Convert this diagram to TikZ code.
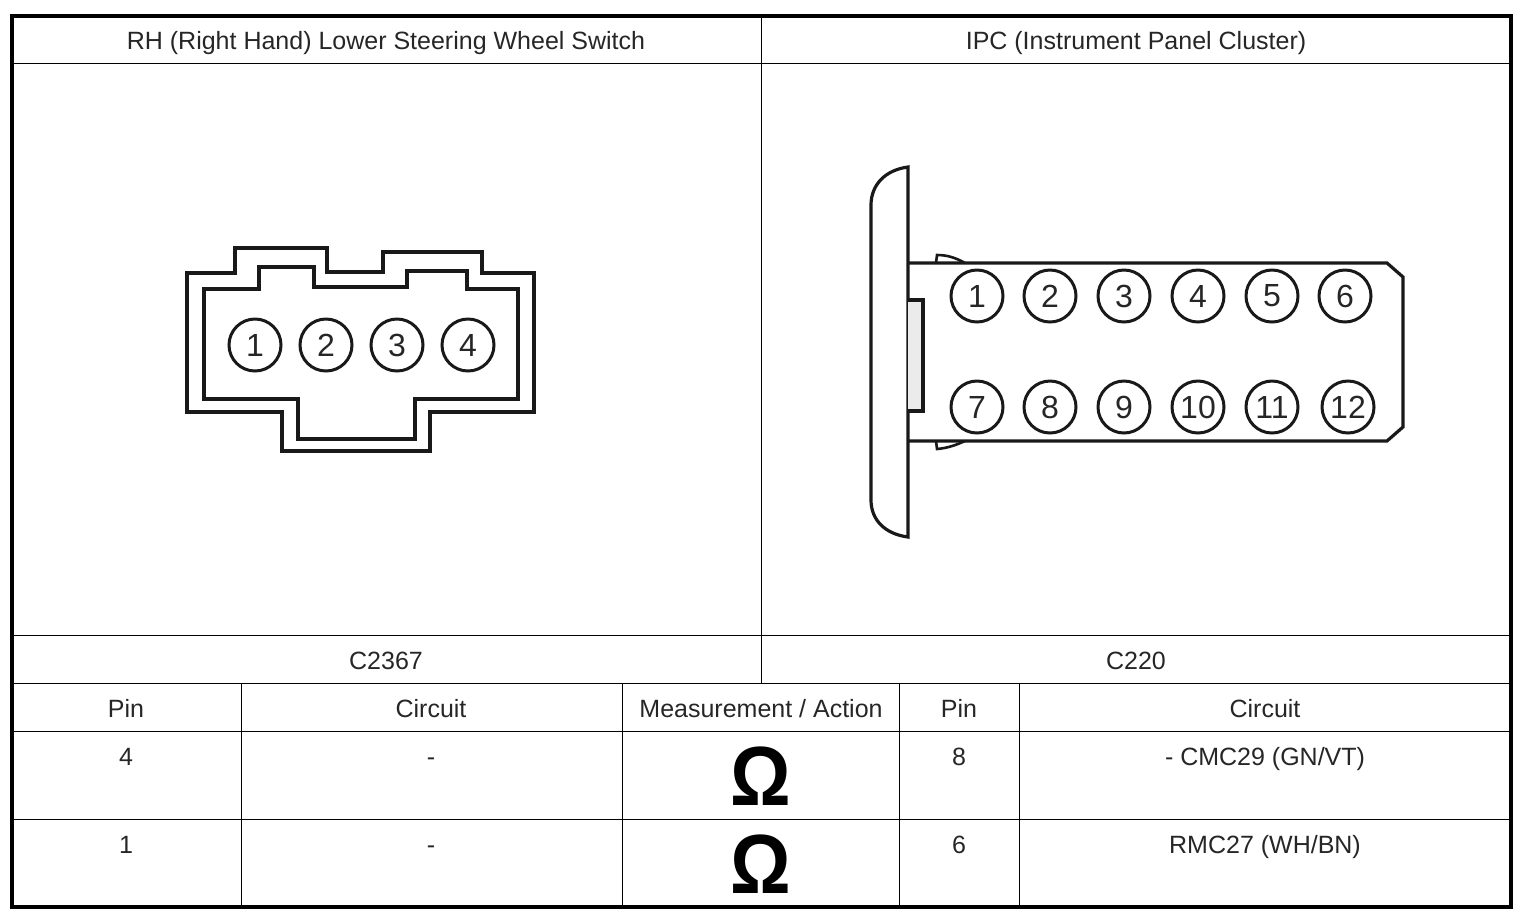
\documentclass[tikz,border=0pt]{standalone}
\usepackage{fontspec}
\setmainfont{Liberation Sans}
\newfontfamily\ohmfont[FakeStretch=0.9]{Liberation Sans}
\usetikzlibrary{positioning}

\begin{document}
\begin{tikzpicture}[
x=0.5pt, y=-0.5pt,
every node/.style={text=black!85},
cell/.style={inner sep=0pt, anchor=base, font=\fontsize{12.5}{14}\selectfont},
hole/.style={circle, draw=black!90, line width=1.5pt, minimum size=26pt, inner sep=0pt, font=\fontsize{16}{16}\selectfont},
ohm/.style={inner sep=0pt, anchor=base, text=black, font=\ohmfont\bfseries\fontsize{42}{44}\selectfont},
grid/.style={line width=0.5pt, draw=black},
outline/.style={line width=1.6pt, draw=black!90, line join=miter}
]
	\useasboundingbox (0,0) rectangle (1526,918);
	% table
	\draw[grid] (761,16) -- (761,684);
	\draw[grid] (12,63.5) -- (1511,63.5);
	\draw[grid] (12,635.5) -- (1511,635.5);
	\draw[grid] (12,683.5) -- (1511,683.5);
	\draw[grid] (12,731.5) -- (1511,731.5);
	\draw[grid] (12,819.5) -- (1511,819.5);
	\draw[grid] (241,684) -- (241,907);
	\draw[grid] (622,684) -- (622,907);
	\draw[grid] (899,684) -- (899,907);
	\draw[grid] (1019,684) -- (1019,907);
	\draw[line width=2pt] (12,16) rectangle (1511,907);
	% titles
	\node[cell] (title1) at (386,49) {RH (Right Hand) Lower Steering Wheel Switch};
	\node[cell] (title2) at (1136,49) {IPC (Instrument Panel Cluster)};
	\node[cell] (conn1) at (386,669) {C2367};
	\node[cell] (conn2) at (1136,669) {C220};
	\node[cell] (head1) at (126,717) {Pin};
	\node[cell] (head2) at (431,717) {Circuit};
	\node[cell] (head3) at (761,717) {Measurement / Action};
	\node[cell] (head4) at (959,717) {Pin};
	\node[cell] (head5) at (1265,717) {Circuit};
	\node[cell] (pina1) at (126,765) {4};
	\node[cell] (cira1) at (431,765) {-};
	\node[ohm] (ohm1) at (761,805) {Ω};
	\node[cell] (pinb1) at (959,765) {8};
	\node[cell] (cirb1) at (1265,765) {- CMC29 (GN/VT)};
	\node[cell] (pina2) at (126,853) {1};
	\node[cell] (cira2) at (431,853) {-};
	\node[ohm] (ohm2) at (761,893) {Ω};
	\node[cell] (pinb2) at (959,853) {6};
	\node[cell] (cirb2) at (1265,853) {RMC27 (WH/BN)};
	% C2367 housing
	\draw[outline] (187,273) -- (235,273) -- (235,248) -- (327,248) -- (327,272) -- (383,272) -- (383,252) -- (482,252) -- (482,273) -- (534,273) -- (534,412) -- (430,412) -- (430,451) -- (282,451) -- (282,412) -- (187,412) -- cycle;
	\draw[outline] (204,289) -- (259,289) -- (259,267) -- (314,267) -- (314,287) -- (407,287) -- (407,271) -- (467,271) -- (467,289) -- (518,289) -- (518,399) -- (415,399) -- (415,439) -- (298,439) -- (298,399) -- (204,399) -- cycle;
	\node[hole] (a1) at (255,345) {1};
	\node[hole, shift={(71,0)}] (a2) at (a1) {2};
	\node[hole, shift={(71,0)}] (a3) at (a2) {3};
	\node[hole, shift={(71,0)}] (a4) at (a3) {4};
	% C220 housing
	\draw[outline] (908,167) .. controls (885,170) and (871,185) .. (871,205) -- (871,500) .. controls (871,520) and (885,534) .. (908,537) -- cycle;
	\draw[outline, line width=1.3pt] (936,263) -- (937,255) .. controls (948,255) and (956,258) .. (965,263);
	\draw[outline, line width=1.3pt] (936,441) -- (937,449) .. controls (948,448) and (956,445) .. (965,441);
	\draw[outline] (908,263) -- (1387,263) -- (1403,277) -- (1403,427) -- (1387,441) -- (908,441);
	\draw[outline, fill=black!8] (908,300) -- (923,300) -- (923,411) -- (908,411);
	\node[hole] (b1) at (977,296) {1};
	\node[hole, shift={(73,0)}] (b2) at (b1) {2};
	\node[hole, shift={(74,0)}] (b3) at (b2) {3};
	\node[hole, shift={(74,0)}] (b4) at (b3) {4};
	\node[hole, shift={(74,0)}] (b5) at (b4) {5};
	\node[hole, shift={(73,0)}] (b6) at (b5) {6};
	\node[hole] (b7) at (977,407) {7};
	\node[hole, shift={(73,0)}] (b8) at (b7) {8};
	\node[hole, shift={(74,0)}] (b9) at (b8) {9};
	\node[hole, shift={(74,0)}] (b10) at (b9) {10};
	\node[hole, shift={(74,0)}] (b11) at (b10) {11};
	\node[hole, shift={(76,0)}] (b12) at (b11) {12};
\end{tikzpicture}
\end{document}
